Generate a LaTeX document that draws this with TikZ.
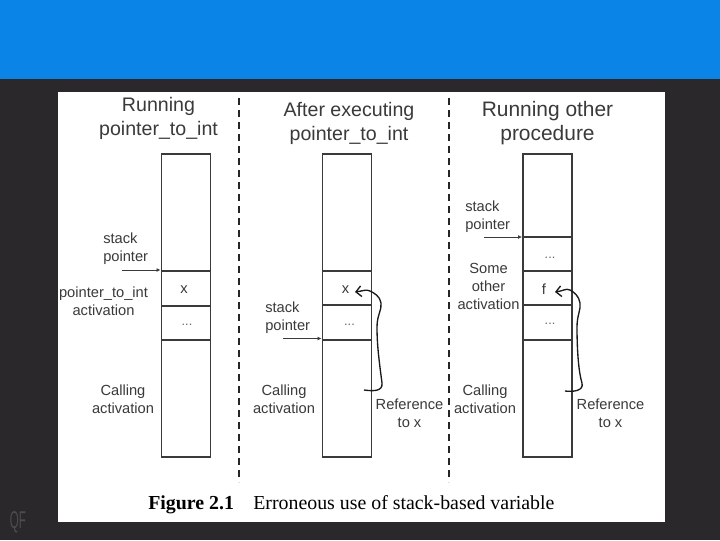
\documentclass[tikz,border=0pt]{standalone}
\usepackage{fontspec}
\setmainfont{Liberation Sans}
\newfontfamily\capfont{Liberation Serif}
\usetikzlibrary{arrows.meta}
\definecolor{bandblue}{HTML}{0A84E6}
\definecolor{darkbg}{HTML}{2A282B}
\definecolor{inkc}{HTML}{3A3A3A}
\definecolor{qfc}{HTML}{4C4C4E}
\tikzset{
  x=0.75pt,y=-0.75pt,
  title/.style={font=\fontsize{14.7}{18}\selectfont,text=inkc,align=center,inner sep=0pt},
  lab/.style={font=\fontsize{11}{13.2}\selectfont,text=inkc,align=center,inner sep=0pt},
  leftlab/.style={font=\fontsize{11}{13.4}\selectfont,text=inkc,align=left,inner sep=0pt,anchor=west},
  dots/.style={font=\fontsize{9.5}{10}\selectfont,text=black!60,inner sep=0pt},
  cellbox/.style={draw=inkc,line width=1.2pt,minimum width=37pt,inner sep=0pt,anchor=north},
  divider/.style={draw=black!85,line width=0.8pt,dash pattern=on 5.5pt off 3.5pt},
  ptr/.style={draw=inkc,line width=0.6pt,-{Latex[length=3pt,width=3pt]}},
  refline/.style={draw=black!90,line width=1pt,-{Straight Barb[length=4pt,width=8pt]}}
}
\newcommand{\cell}[4]{\node[cellbox,minimum height=#4*0.75pt] (#1) at (#2,#3) {};}
\begin{document}
\begin{tikzpicture}
\useasboundingbox (0,0) rectangle (720,540);
\fill[darkbg] (0,0) rectangle (720,540);
\fill[bandblue] (0,0) rectangle (720,79);
\fill[white] (58,92) rectangle (665,522);

\coordinate (d1a) at (239,98); \coordinate (d1b) at (239,482);
\coordinate (d2a) at (449,98); \coordinate (d2b) at (449,482);
\draw[divider] (d1a) -- (d1b);
\draw[divider] (d2a) -- (d2b);

\node[title] (t1) at (158.5,118) {Running\\pointer\_to\_int};
\node[title] (t2) at (349,123) {After executing\\pointer\_to\_int};
\node[title,font=\fontsize{15.7}{18}\selectfont] (t3) at (547.5,123) {Running other\\procedure};

% column 1
\cell{a1}{186}{153}{117}
\cell{a2}{186}{270}{35}
\cell{a3}{186}{305}{34}
\cell{a4}{186}{339}{117}
% column 2
\cell{b1}{347}{153}{117}
\cell{b2}{347}{270}{34}
\cell{b3}{347}{304}{35}
\cell{b4}{347}{339}{117}
% column 3
\cell{c1}{547.5}{153}{83}
\cell{c2}{547.5}{236}{34}
\cell{c3}{547.5}{270}{34}
\cell{c4}{547.5}{304}{35}
\cell{c5}{547.5}{339}{117}

\node[lab] (xa) at (184,290) {x};
\node[lab] (xb) at (345.5,290) {x};
\node[lab] (fc) at (544,289) {f};
\node[dots] (da) at (187,325) {...};
\node[dots] (db) at (349.5,325) {...};
\node[dots] (dc) at (550,258) {...};
\node[dots] (dd) at (550,324) {...};

% labels column 1
\node[leftlab] (s1) at (103,249) {stack\\pointer};
\node[lab] (p1) at (103.5,301) {pointer\_to\_int\\activation};
\node[lab] (c1l) at (123,399) {Calling\\activation};
% labels column 2
\node[leftlab] (s2) at (265,318) {stack\\pointer};
\node[lab] (c2l) at (284,399) {Calling\\activation};
\node[lab] (r2) at (409.5,413) {Reference\\to x};
% labels column 3
\node[leftlab] (s3) at (465,217) {stack\\pointer};
\node[lab] (o3) at (488.5,286.5) {Some\\other\\activation};
\node[lab] (c3l) at (485,399) {Calling\\activation};
\node[lab] (r3) at (610.5,413) {Reference\\to x};

% stack pointers
\coordinate (sp1) at (122,270);
\draw[ptr] (sp1) -- (sp1 -| a2.west);
\coordinate (sp2) at (283,338.5);
\draw[ptr] (sp2) -- (sp2 -| b4.west);
\coordinate (sp3) at (484,237);
\draw[ptr] (sp3) -- (sp3 -| c2.west);

% references
\coordinate (rs2) at (364,390);
\coordinate (tip2) at (355,292);
\coordinate (rs3) at (565,391);
\coordinate (tip3) at (555,292);
\draw[refline] (rs2) .. controls (372,391) and (383,392) .. (382,383)
  .. controls (379,360) and (377,345) .. (377,327)
  .. controls (377,315) and (382,310) .. (381,303)
  .. controls (380,296) and (374,293) .. (370,291)
  .. controls (366,289) and (363,291) .. (tip2);
\draw[refline] (rs3) .. controls (573,392) and (584,391) .. (582,383)
  .. controls (578,370) and (577,345) .. (577,327)
  .. controls (577,315) and (581,310) .. (580,303)
  .. controls (579,296) and (574,292) .. (570,290)
  .. controls (566,288) and (563,291) .. (tip3);

% caption
\node[anchor=base west,inner sep=0pt,font=\capfont\fontsize{14.9}{17}\selectfont\bfseries] (cap1) at (148,509.5) {Figure 2.1};
\node[anchor=base west,inner sep=0pt,font=\capfont\fontsize{14.9}{17}\selectfont] (cap2) at (253,509.5) {Erroneous use of stack-based variable};
% watermark
\node[inner sep=0pt,text=qfc,font=\fontsize{14}{14}\selectfont] (qf) at (18,522) {\scalebox{0.62}[1.3]{QF}};
\end{tikzpicture}
\end{document}
